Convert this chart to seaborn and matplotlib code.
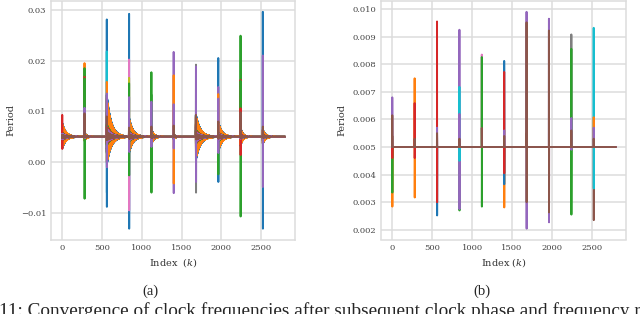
import numpy as np
import pandas as pd
import seaborn as sns
import matplotlib.pyplot as plt

# ---- data ----
n_samples = 2800
n_clocks = 16
nominal = 0.005
events = [0, 280, 560, 840, 1120, 1400, 1680, 1960, 2240, 2520]

# (a) spikes right after each resync: (clock, period value)
a_peaks = [
    [(13, 0.0093)],
    [(1, 0.0195), (2, 0.0185), (3, 0.0168), (12, 0.0165), (14, 0.0107), (15, 0.0096)],
    [(0, 0.0281), (9, 0.0218), (11, 0.0158), (14, 0.0135), (15, 0.0090)],
    [(0, 0.0292), (6, 0.0202), (8, 0.0166), (12, 0.0155), (14, 0.0128), (15, 0.0068)],
    [(2, 0.0177), (12, 0.0133), (14, 0.0119), (15, 0.0070)],
    [(4, 0.0217), (11, 0.0171), (14, 0.0114), (15, 0.0072)],
    [(7, 0.0192), (14, 0.0188), (15, 0.0093)],
    [(0, 0.0205), (4, 0.0148), (11, 0.0134), (14, 0.0125), (15, 0.0080)],
    [(2, 0.0249), (3, 0.0162), (12, 0.0160), (13, 0.0106), (15, 0.0098)],
    [(0, 0.0296), (14, 0.0210), (15, 0.0070)],
]
a_dips = [
    [(13, 0.0026)],
    [(12, -0.0072)],
    [(9, -0.0060), (10, -0.0088), (14, -0.0010)],
    [(0, -0.0131), (6, -0.0095), (12, -0.0026), (14, 0.0020)],
    [(2, -0.0060), (12, -0.0035), (14, 0.0030)],
    [(4, -0.0061), (11, -0.0042), (14, 0.0027)],
    [(7, -0.0060), (14, -0.0039)],
    [(0, -0.0039), (12, -0.0024), (14, 0.0018)],
    [(2, -0.0107), (13, 0.0014)],
    [(0, -0.0131), (14, -0.0049)],
]
# (a) ringing after each resync: size above / below nominal, decay length (samples)
a_ring_up = [0.0027, 0.0008, 0.0082, 0.0038, 0.0015, 0.0005, 0.0043, 0.0030, 0.0018, 0.0014]
a_ring_down = [0.0023, 0.0008, 0.0055, 0.0032, 0.0015, 0.0005, 0.0045, 0.0030, 0.0018, 0.0014]
a_ring_tau = [45, 25, 55, 48, 30, 20, 55, 45, 28, 32]
clock_weight = [1.0, 0.93, 0.6, 0.55, 0.5, 0.45, 0.4, 0.35, 0.3, 0.3,
                1.0, 0.93, 0.3, 0.25, 0.2, 0.12]

# (b) spikes
b_peaks = [
    [(4, 0.0068), (5, 0.00615), (15, 0.0054)],
    [(1, 0.00749), (3, 0.00659), (15, 0.0053)],
    [(3, 0.00955), (4, 0.0057), (5, 0.0055)],
    [(4, 0.00925), (9, 0.00718), (14, 0.0062), (15, 0.0053)],
    [(6, 0.00835), (12, 0.00826), (15, 0.00569)],
    [(0, 0.00812), (3, 0.00772), (4, 0.0056), (5, 0.0054)],
    [(4, 0.0099), (5, 0.00952), (15, 0.0055)],
    [(4, 0.00965), (5, 0.00922)],
    [(7, 0.00908), (12, 0.00856), (14, 0.00605), (15, 0.0056)],
    [(9, 0.00932), (11, 0.00608), (14, 0.0057), (15, 0.0053)],
]
b_dips = [
    [(1, 0.00284), (12, 0.00335), (13, 0.0046)],
    [(1, 0.00317), (3, 0.0046)],
    [(0, 0.00252), (3, 0.0030)],
    [(2, 0.0027), (4, 0.00275), (9, 0.0045)],
    [(12, 0.00284)],
    [(1, 0.00281), (10, 0.00365), (13, 0.00405)],
    [(4, 0.00204), (5, 0.0030)],
    [(4, 0.00227), (5, 0.00263)],
    [(12, 0.00255), (14, 0.0049)],
    [(5, 0.00235), (9, 0.0035)],
]

clock_names = [f"clock {c}" for c in range(n_clocks)]


def build(peaks, dips, ring=None):
    t = np.arange(n_samples)
    vals = np.full((n_clocks, n_samples), nominal)
    if ring is not None:
        sign = np.where(t % 2 == 0, 1.0, -1.0)
        for e, up, dn, tau in zip(events, *ring):
            seg = (t >= e) & (t < e + 280)
            size = np.where(sign[seg] > 0, up, dn) * np.exp(-(t[seg] - e) / tau)
            for c in range(n_clocks):
                vals[c, seg] += sign[seg] * size * clock_weight[c]
    for e, pk, dp in zip(events, peaks, dips):
        for c, v in pk:
            vals[c, e + 1] = v
        for c, v in dp:
            vals[c, e + 2] = v
    return pd.DataFrame({
        "k": np.tile(t, n_clocks),
        "period": vals.ravel(),
        "clock": np.repeat(clock_names, n_samples),
    })


df_a = build(a_peaks, a_dips, (a_ring_up, a_ring_down, a_ring_tau))
df_b = build(b_peaks, b_dips)

# ---- plot ----
sns.set_theme(style="whitegrid", rc={
    "grid.color": "#dcdcdc", "grid.linewidth": 1.1,
    "axes.edgecolor": "#dcdcdc", "axes.linewidth": 1.1,
})
plt.rcParams["font.family"] = ["DejaVu Serif"]
plt.rcParams["mathtext.fontset"] = "dejavuserif"

tab = sns.color_palette("tab10")
palette = [tab[c % 10] for c in range(n_clocks)]

fig = plt.figure(figsize=(6.4, 3.14), dpi=100)
bottom = 1 - 239.5 / 314
height = 238.5 / 314
ax_a = fig.add_axes([51 / 640, bottom, 244 / 640, height])
ax_b = fig.add_axes([381 / 640, bottom, 245 / 640, height])

for ax, df, xlabel in [(ax_a, df_a, "Index  $(k)$"), (ax_b, df_b, "Index $(k)$")]:
    sns.lineplot(data=df, x="k", y="period", hue="clock", hue_order=clock_names,
                 palette=palette, estimator=None, legend=False, linewidth=1.4, ax=ax)
    ax.set_xlim(-140, 2925)
    ax.set_xticks([0, 500, 1000, 1500, 2000, 2500])
    ax.set_xlabel(xlabel, fontsize=7, color="#333333", labelpad=3)
    ax.set_ylabel("Period", fontsize=7, color="#333333", labelpad=4)
    ax.tick_params(length=0, labelsize=6, labelcolor="#444444", pad=3.5)

ax_a.set_yticks([-0.01, 0.0, 0.01, 0.02, 0.03])
ax_b.set_yticks([0.002, 0.003, 0.004, 0.005, 0.006, 0.007, 0.008, 0.009, 0.010])

fig.text(150 / 640, 1 - 291 / 314, "(a)", ha="center", va="center",
         family="Liberation Serif", fontsize=10.5)
fig.text(482 / 640, 1 - 291 / 314, "(b)", ha="center", va="center",
         family="Liberation Serif", fontsize=10.5)

# caption runs past both edges of the crop
caption = ("Figure 11: Convergence of clock frequencies after subsequent "
           "clock phase and frequency resynchronization")
cap_size = 13.9
renderer = fig.canvas.get_renderer()
probe = fig.text(0, 0, "Figure ", family="Liberation Serif", fontsize=cap_size)
prefix_w = probe.get_window_extent(renderer).width
probe.remove()
fig.text((-prefix_w - 1) / 640, 1 - 315.5 / 314, caption, ha="left", va="baseline",
         family="Liberation Serif", fontsize=cap_size)

fig.savefig("out.png", dpi=100)
